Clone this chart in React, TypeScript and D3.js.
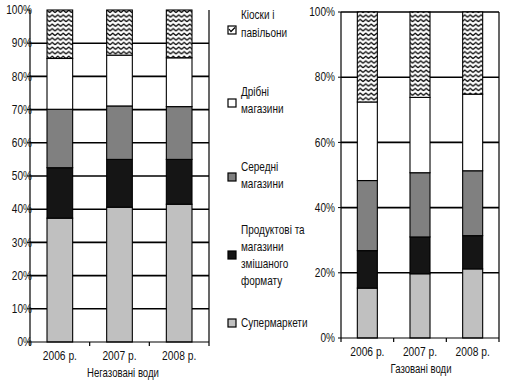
import React from 'react';
import * as d3 from 'd3';

const categories = ['2006 р.', '2007 р.', '2008 р.'];
const seriesKeys = ['super', 'products', 'middle', 'small', 'kiosks'];
const legendLabels = [
  ['Кіоски і', 'павільони'],
  ['Дрібні', 'магазини'],
  ['Середні', 'магазини'],
  ['Продуктові та', 'магазини', 'змішаного', 'формату'],
  ['Супермаркети'],
];
// Non-carbonated water (segment shares, %)
const stillSuper = [37.3, 40.6, 41.5];
const stillProducts = [15.2, 14.4, 13.5];
const stillMiddle = [17.6, 16.1, 15.9];
const stillSmall = [15.3, 15.3, 14.7];
const stillKiosks = [14.6, 13.6, 14.4];
// Carbonated water
const sparkSuper = [15.3, 19.7, 21.2];
const sparkProducts = [11.5, 11.3, 10.2];
const sparkMiddle = [21.5, 19.7, 19.9];
const sparkSmall = [24.1, 23.1, 23.5];
const sparkKiosks = [27.6, 26.2, 25.2];

const leftTicks = [0, 10, 20, 30, 40, 50, 60, 70, 80, 90, 100];
const rightTicks = [0, 20, 40, 60, 80, 100];

const FONT = "'Liberation Sans', Arial, sans-serif";
const fills: Record<string, string> = {
  super: '#c0c0c0',
  products: '#151515',
  middle: '#808080',
  small: '#ffffff',
  kiosks: 'url(#zigzag)',
};

function Txt({ x, y, anchor = 'start', size = 12.5, sx = 0.8, children }: any) {
  return (
    <g transform={`translate(${x},${y}) scale(${sx},1)`}>
      <text x={0} y={0} dy="0.35em" textAnchor={anchor} fontSize={size} fontFamily={FONT} fill="#111">
        {children}
      </text>
    </g>
  );
}

function buildRows(a: number[], b: number[], c: number[], d: number[], e: number[]) {
  return categories.map((cat, i) => ({ cat, super: a[i], products: b[i], middle: c[i], small: d[i], kiosks: e[i] }));
}

type PanelProps = {
  rows: any[];
  x0: number; x1: number; y0: number; y1: number;
  ticks: number[];
  barRatio: number;
  title: string;
  titleX: number;
  topLine: boolean;
  labelOffset: number;
};

function Panel({ rows, x0, x1, y0, y1, ticks, barRatio, title, titleX, topLine, labelOffset }: PanelProps) {
  const x = d3.scaleBand<string>().domain(categories).range([x0, x1]).paddingInner(0).paddingOuter(0);
  const y = d3.scaleLinear().domain([0, 100]).range([y0, y1]);
  const stack = d3.stack<any>().keys(seriesKeys)(rows);
  const bw = x.bandwidth() * barRatio;
  const boundaries = [x0, ...categories.map((c) => (x(c) as number) + x.bandwidth())];
  return (
    <g>
      {ticks.filter((t) => t > 0 && (t < 100 || topLine)).map((t) => (
        <line key={'g' + t} x1={x0} x2={x1} y1={y(t)} y2={y(t)} stroke="#000" strokeWidth={1.6} />
      ))}
      {stack.map((s) => (
        <g key={s.key}>
          {s.map((d, i) => (
            <rect
              key={i}
              x={(x(categories[i]) as number) + (x.bandwidth() - bw) / 2}
              y={y(d[1])}
              width={bw}
              height={y(d[0]) - y(d[1])}
              fill={fills[s.key]}
              stroke="#000"
              strokeWidth={1.1}
            />
          ))}
        </g>
      ))}
      <line x1={x0} x2={x0} y1={y1} y2={y0} stroke="#000" strokeWidth={1.2} />
      <line x1={x1} x2={x1} y1={y1} y2={y0} stroke="#000" strokeWidth={1.2} />
      <line x1={x0} x2={x1} y1={y0} y2={y0} stroke="#000" strokeWidth={1.2} />
      {boundaries.map((b, i) => (
        <line key={'xt' + i} x1={b} x2={b} y1={y0} y2={y0 + 4} stroke="#000" strokeWidth={1.2} />
      ))}
      {ticks.map((t) => (
        <g key={'yt' + t}>
          <line x1={x0 - 3} x2={x0} y1={y(t)} y2={y(t)} stroke="#000" strokeWidth={1} />
          <Txt x={x0 - labelOffset} y={y(t)} anchor="end" size={12} sx={0.84}>
            {t + '%'}
          </Txt>
        </g>
      ))}
      {categories.map((c) => (
        <Txt key={c} x={(x(c) as number) + x.bandwidth() / 2} y={y0 + 14} anchor="middle" size={12.5} sx={0.82}>
          {c}
        </Txt>
      ))}
      <Txt x={titleX} y={y0 + 31} anchor="middle" size={12} sx={0.8}>
        {title}
      </Txt>
    </g>
  );
}

const legendY = [
  [15, 33],
  [92, 109],
  [167, 184],
  [230, 247, 264, 281],
  [323],
];
const swatchY = [30, 103, 177, 255, 323];
const legendFill = ['url(#zigzagSmall)', '#ffffff', '#808080', '#151515', '#c0c0c0'];

export default function App() {
  const stillRows = buildRows(stillSuper, stillProducts, stillMiddle, stillSmall, stillKiosks);
  const sparkRows = buildRows(sparkSuper, sparkProducts, sparkMiddle, sparkSmall, sparkKiosks);
  return (
    <svg width={508} height={381} style={{ position: 'absolute', left: 0, top: 0, background: '#fff' }}>
      <defs>
        <pattern id="zigzag" width={5.5} height={4.6} patternUnits="userSpaceOnUse">
          <rect width={5.5} height={4.6} fill="#fff" />
          <path d="M0,3.5 L2.75,1 L5.5,3.5" fill="none" stroke="#000" strokeWidth={1.3} />
        </pattern>
        <pattern id="zigzagSmall" width={8} height={8} patternUnits="userSpaceOnUse" x={228} y={26}>
          <rect width={8} height={8} fill="#fff" />
          <path d="M1,3 L3,5.5 L7,1.5" fill="none" stroke="#000" strokeWidth={1.2} />
        </pattern>
      </defs>
      <rect width={508} height={381} fill="#fff" />
      <Panel rows={stillRows} x0={30} x1={209} y0={342} y1={10} ticks={leftTicks} barRatio={0.43} title="Негазовані води" titleX={123} topLine={false} labelOffset={-2} />
      <Panel rows={sparkRows} x0={341} x1={499} y0={338} y1={12} ticks={rightTicks} barRatio={0.38} title="Газовані води" titleX={421} topLine={true} labelOffset={6} />
      {legendLabels.map((lines, i) => (
        <g key={i}>
          <rect x={228} y={swatchY[i] - 4} width={8} height={8} fill={legendFill[i]} stroke="#000" strokeWidth={1.2} />
          {lines.map((l, j) => (
            <Txt key={j} x={241} y={legendY[i][j]} size={12.5} sx={0.8}>
              {l}
            </Txt>
          ))}
        </g>
      ))}
    </svg>
  );
}
